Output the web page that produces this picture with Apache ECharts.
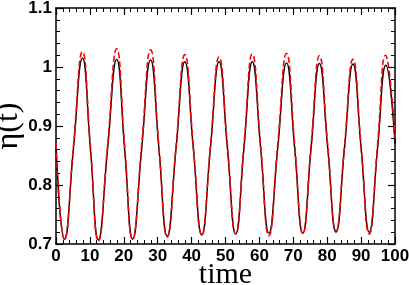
<!DOCTYPE html>
<html>
<head>
<meta charset="utf-8">
<script src="https://cdn.jsdelivr.net/npm/echarts@6/dist/echarts.min.js"></script>
<style>html,body{margin:0;padding:0;background:#fff;}#c{width:409px;height:285px;}</style>
</head>
<body>
<div id="c"></div>
<script>
const xTicks = [0, 10, 20, 30, 40, 50, 60, 70, 80, 90, 100];
const yTicks = [0.7, 0.8, 0.9, 1, 1.1];

const tBlack = [0, 2.5, 5.15, 7.8, 10.15, 12.5, 15.2, 17.9, 20.25, 22.6, 25.25, 27.9, 30.35, 32.8, 35.4, 38.0, 40.5, 43.0, 45.55, 48.1, 50.55, 53.0, 55.45, 57.9, 60.35, 62.8, 65.4, 68.0, 70.4, 72.8, 75.25, 77.7, 80.15, 82.6, 85.1, 87.6, 90.0, 92.4, 94.85, 97.3, 100];
const etaBlack = [0.868, 0.708, 0.862, 1.015, 0.861, 0.707, 0.860, 1.013, 0.860, 0.708, 0.860, 1.012, 0.862, 0.713, 0.861, 1.009, 0.862, 0.715, 0.862, 1.009, 0.863, 0.717, 0.863, 1.009, 0.863, 0.718, 0.862, 1.007, 0.862, 0.718, 0.862, 1.006, 0.863, 0.720, 0.862, 1.005, 0.862, 0.720, 0.861, 1.003, 0.870];

const tRed = [0, 2.5, 5.15, 7.8, 10.15, 12.5, 15.2, 17.9, 20.25, 22.6, 25.25, 27.9, 30.35, 32.8, 35.4, 38.0, 40.5, 43.0, 45.55, 48.1, 50.55, 53.0, 55.45, 57.9, 60.35, 62.8, 65.4, 68.0, 70.4, 72.8, 75.25, 77.7, 80.15, 82.6, 85.1, 87.6, 90.0, 92.4, 94.85, 97.2, 100];
const etaRed = [0.870, 0.708, 0.866, 1.026, 0.866, 0.705, 0.866, 1.031, 0.867, 0.708, 0.866, 1.029, 0.866, 0.712, 0.865, 1.021, 0.866, 0.716, 0.866, 1.017, 0.868, 0.717, 0.868, 1.022, 0.868, 0.714, 0.868, 1.023, 0.869, 0.718, 0.868, 1.019, 0.868, 0.722, 0.867, 1.013, 0.867, 0.717, 0.868, 1.020, 0.880];

const pairs = (xs, ys) => xs.map((x, i) => [x, ys[i]]);

const lbl = {fontFamily: 'Liberation Sans', fontWeight: 'bold', fontSize: 17, color: '#000'};
const axLine = {show: true, onZero: false, lineStyle: {color: '#000', width: 1.5}};
const tick = {show: true, inside: true, length: 7, lineStyle: {color: '#000', width: 1.2}};
const minor = {show: true, splitNumber: 5, length: 4, lineStyle: {color: '#000', width: 1}};

const chart = echarts.init(document.getElementById('c'), null, {renderer: 'canvas'});
chart.setOption({
  animation: false,
  backgroundColor: '#fff',
  grid: {left: 56, right: 14, top: 8, bottom: 41, containLabel: false, outerBoundsMode: 'none'},
  xAxis: [
    {type: 'value', min: xTicks[0], max: xTicks[xTicks.length - 1], interval: 10, position: 'bottom',
     name: 'time', nameLocation: 'middle', nameGap: 16, nameMoveOverlap: false,
     nameTextStyle: {fontFamily: 'Liberation Serif', fontSize: 30, color: '#000'},
     axisLine: axLine, axisTick: tick, minorTick: minor, splitLine: {show: false},
     axisLabel: Object.assign({margin: 4}, lbl)},
    {type: 'value', min: xTicks[0], max: xTicks[xTicks.length - 1], interval: 10, position: 'top',
     axisLine: axLine, axisTick: tick, minorTick: minor, splitLine: {show: false}, axisLabel: {show: false}}
  ],
  yAxis: [
    {type: 'value', min: yTicks[0], max: yTicks[yTicks.length - 1], interval: 0.1, position: 'left',
     name: 'η(t)', nameLocation: 'middle', nameGap: 31, nameRotate: 90, nameMoveOverlap: false,
     nameTextStyle: {fontFamily: 'Liberation Serif', fontSize: 32, color: '#000'},
     axisLine: axLine, axisTick: tick, minorTick: minor, splitLine: {show: false},
     axisLabel: Object.assign({margin: 4, formatter: v => String(Math.round(v * 10) / 10)}, lbl)},
    {type: 'value', min: yTicks[0], max: yTicks[yTicks.length - 1], interval: 0.1, position: 'right',
     axisLine: axLine, axisTick: tick, minorTick: minor, splitLine: {show: false}, axisLabel: {show: false}}
  ],
  series: [
    {type: 'line', data: pairs(tBlack, etaBlack), smooth: 0.5, symbol: 'none', clip: true,
     lineStyle: {color: '#000', width: 1.4}},
    {type: 'line', data: pairs(tRed, etaRed), smooth: 0.5, symbol: 'none', clip: true,
     lineStyle: {color: '#ff0000', width: 1.6, type: [6, 3]}}
  ]
});
</script>
</body>
</html>
